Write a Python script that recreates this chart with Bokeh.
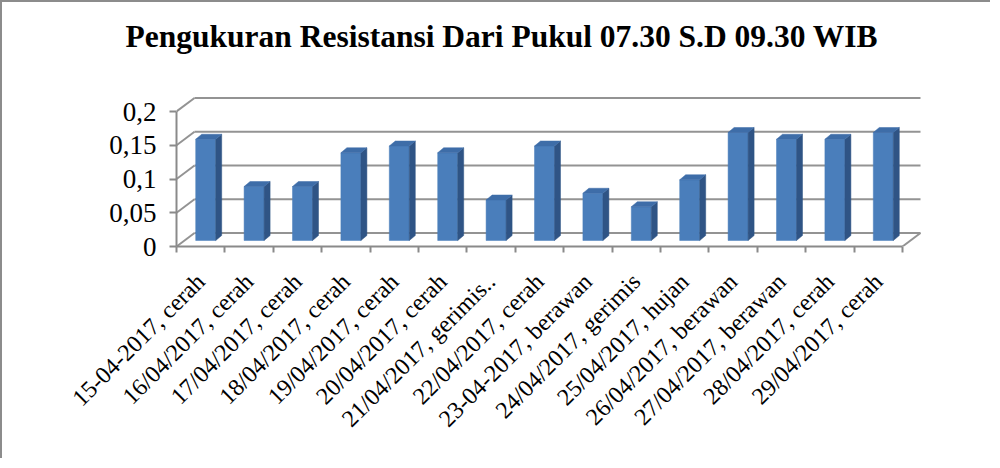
import math
from bokeh.plotting import figure
from bokeh.models import FixedTicker, CustomJSTickFormatter, Range1d
from bokeh.embed import file_html
from bokeh.resources import INLINE

# ---------------- data ----------------
categories = [
    "15-04-2017, cerah",
    "16/04/2017, cerah",
    "17/04/2017, cerah",
    "18/04/2017, cerah",
    "19/04/2017, cerah",
    "20/04/2017, cerah",
    "21/04/2017, gerimis..",
    "22/04/2017, cerah",
    "23-04-2017, berawan",
    "24/04/2017, gerimis",
    "25/04/2017, hujan",
    "26/04/2017, berawan",
    "27/04/2017, berawan",
    "28/04/2017, cerah",
    "29/04/2017, cerah",
]
values = [0.15, 0.08, 0.08, 0.13, 0.14, 0.13, 0.06, 0.14, 0.07, 0.05,
          0.09, 0.16, 0.15, 0.15, 0.16]
y_ticks = [0, 0.05, 0.1, 0.15, 0.2]
y_tick_labels = ["0", "0,05", "0,1", "0,15", "0,2"]
title_text = "Pengukuran Resistansi Dari Pukul 07.30 S.D 09.30 WIB"

# ---------------- layout constants (pixels) ----------------
W, H = 990, 458
FRAME_L, FRAME_R, FRAME_T, FRAME_B = 174, 920, 90, 244
PX_X = 48.4     # pixels per category
PX_Y = 675.0    # pixels per value unit
n = len(categories)

WALL_DX, WALL_DY = 18 / PX_X, 13.5 / PX_Y      # depth of the 3D box
BAR_SHIFT, BAR_HALF = 5 / PX_X, 10 / PX_X       # bar front face placement
BAR_LIFT = 6 / PX_Y
BAR_DX, BAR_DY = 6 / PX_X, 5 / PX_Y             # bar depth

GRID = "#939393"
AXIS = "#8a8a8a"
FRONT, SIDE, TOP = "#4A7EBB", "#2F5485", "#3E6DA8"

p = figure(
    width=W, height=H,
    x_range=Range1d(0, (FRAME_R - FRAME_L) / PX_X),
    y_range=Range1d(0, (FRAME_B - FRAME_T) / PX_Y),
    output_backend="svg", toolbar_location=None,
    min_border_left=FRAME_L, min_border_right=W - FRAME_R,
    min_border_top=FRAME_T, min_border_bottom=H - FRAME_B,
    background_fill_color="white", border_fill_color="white",
    styles={"border-left": "2px solid #8c8c8c", "border-top": "2px solid #8c8c8c"},
)
p.outline_line_color = None
p.grid.visible = False

# title: a blank second line lifts the visible line well above the walls
p.title.text = title_text + "\n "
p.title.align = "left"
p.title.offset = -51
p.title.standoff = 8
p.title.vertical_align = "bottom"
p.title.text_font = "Liberation Serif"
p.title.text_font_style = "bold"
p.title.text_font_size = "31.5px"
p.title.text_color = "black"

# ---------------- 3D walls / gridlines ----------------
xs, ys = [], []
for t in y_ticks:
    # back wall gridline
    xs.append([WALL_DX, n + WALL_DX])
    ys.append([t + WALL_DY, t + WALL_DY])
    # side wall diagonal
    xs.append([0, WALL_DX])
    ys.append([t, t + WALL_DY])
# floor right edge
xs.append([n, n + WALL_DX])
ys.append([0, WALL_DY])
p.multi_line(xs, ys, line_color=GRID, line_width=2)

# ---------------- 3D bars ----------------
side_x, side_y, top_x, top_y = [], [], [], []
lefts, rights, tops = [], [], []
for i, v in enumerate(values):
    c = i + 0.5
    L = c + BAR_SHIFT - BAR_HALF
    R = c + BAR_SHIFT + BAR_HALF
    B = BAR_LIFT
    T = BAR_LIFT + v
    lefts.append(L); rights.append(R); tops.append(T)
    side_x.append([R, R + BAR_DX, R + BAR_DX, R])
    side_y.append([B, B + BAR_DY, T + BAR_DY, T])
    top_x.append([L, R, R + BAR_DX, L + BAR_DX])
    top_y.append([T, T, T + BAR_DY, T + BAR_DY])

p.quad(left=lefts, right=rights, bottom=BAR_LIFT, top=tops,
       fill_color=FRONT, line_color=FRONT, line_width=0.5)
p.patches(side_x, side_y, fill_color=SIDE, line_color=SIDE, line_width=0.5)
p.patches(top_x, top_y, fill_color=TOP, line_color=TOP, line_width=0.5)

# ---------------- axes ----------------
xa = p.xaxis[0]
xa.ticker = FixedTicker(ticks=[i + 0.5 for i in range(n)], minor_ticks=list(range(n + 1)))
xa.formatter = CustomJSTickFormatter(args=dict(cat_labels=categories),
                                     code="return cat_labels[Math.round(tick - 0.5)] || '';")
xa.bounds = (0, n)
xa.axis_line_color = AXIS
xa.axis_line_width = 2
xa.major_tick_line_color = None
xa.minor_tick_line_color = AXIS
xa.minor_tick_line_width = 2
xa.minor_tick_out = 6
xa.minor_tick_in = 0
xa.major_label_orientation = math.pi / 4
xa.major_label_text_font = "Liberation Serif"
xa.major_label_text_font_size = "24px"
xa.major_label_text_color = "black"
xa.major_label_standoff = 25

ya = p.yaxis[0]
ya.ticker = FixedTicker(ticks=y_ticks, minor_ticks=[])
ya.formatter = CustomJSTickFormatter(
    args=dict(yvals=y_ticks, ylabels=y_tick_labels),
    code="const k = yvals.findIndex(t => Math.abs(t - tick) < 1e-9); return k >= 0 ? ylabels[k] : '';")
ya.bounds = (0, 0.2)
ya.axis_line_color = AXIS
ya.axis_line_width = 2
ya.major_tick_line_color = AXIS
ya.major_tick_line_width = 2
ya.major_tick_out = 7
ya.major_tick_in = 0
ya.minor_tick_line_color = None
ya.major_label_text_font = "Liberation Serif"
ya.major_label_text_font_size = "27px"
ya.major_label_text_color = "black"
ya.major_label_standoff = 13

open("out.html", "w").write(file_html(p, INLINE))
